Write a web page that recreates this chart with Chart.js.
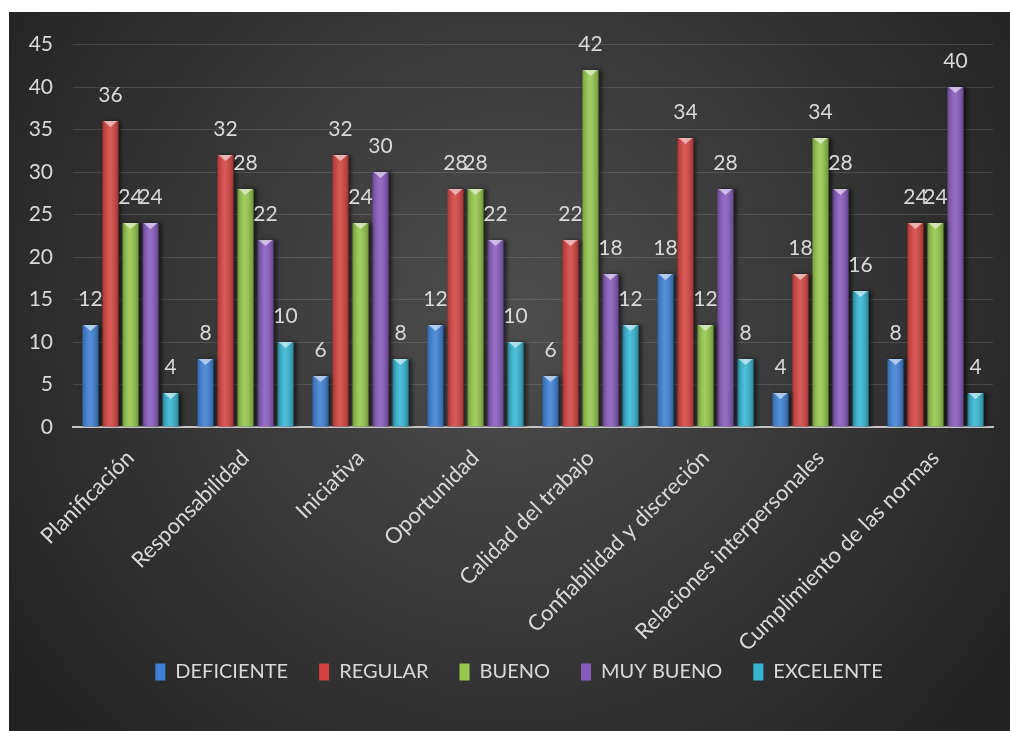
<!DOCTYPE html>
<html>
<head>
<meta charset="utf-8">
<script src="https://cdn.jsdelivr.net/npm/chart.js@4.4.1/dist/chart.umd.min.js"></script>
<style>
  body { margin: 0; background: #ffffff; }
  #wrap { position: absolute; left: 9px; top: 12px; width: 1001px; height: 719px; }
</style>
</head>
<body>
<div id="wrap"><canvas id="chart" width="1001" height="719"></canvas></div>
<script>
// categorias evaluadas
var categorias = ['Planificación', 'Responsabilidad', 'Iniciativa', 'Oportunidad',
  'Calidad del trabajo', 'Confiabilidad y discreción', 'Relaciones interpersonales',
  'Cumplimiento de las normas'];

var deficiente = [12, 8, 6, 12, 6, 18, 4, 8];
var regular    = [36, 32, 32, 28, 22, 34, 18, 24];
var bueno      = [24, 28, 24, 28, 42, 12, 34, 24];
var muyBueno   = [24, 22, 30, 22, 18, 28, 28, 40];
var excelente  = [4, 10, 8, 10, 12, 8, 16, 4];

var yTicks = [0, 5, 10, 15, 20, 25, 30, 35, 40, 45];

var FONT = 'Lato, "Open Sans", sans-serif';
var TXT = '#d9d9d9';

// fondo oscuro con degradado radial
var fondo = {
  id: 'fondo',
  beforeDraw: function (chart) {
    var ctx = chart.ctx, w = chart.width, h = chart.height;
    var g = ctx.createRadialGradient(w * 0.5, h * 0.42, 0, w * 0.5, h * 0.42, w * 0.62);
    g.addColorStop(0, '#4e4e4e');
    g.addColorStop(1, '#222222');
    ctx.save();
    ctx.fillStyle = g;
    ctx.fillRect(0, 0, w, h);
    ctx.restore();
  }
};

// las etiquetas giradas bajan por debajo de la caja del eje, no recortarlas
// y correr un poco la leyenda a la derecha
var ajustes = {
  id: 'ajustes',
  afterLayout: function (chart) {
    chart.scales.x.bottom = chart.height;
    chart.legend.left += 36;
  }
};

// sombra de las barras
var sombra = {
  id: 'sombra',
  beforeDatasetDraw: function (chart) {
    var ctx = chart.ctx;
    ctx.save();
    ctx.shadowColor = 'rgba(0,0,0,0.55)';
    ctx.shadowBlur = 4;
    ctx.shadowOffsetX = 3;
    ctx.shadowOffsetY = 0;
  },
  afterDatasetDraw: function (chart) {
    chart.ctx.restore();
  }
};

// brillo, punta clara y etiquetas de valor
var relieve = {
  id: 'relieve',
  afterDatasetsDraw: function (chart) {
    var ctx = chart.ctx;
    ctx.save();
    chart.data.datasets.forEach(function (ds, i) {
      var meta = chart.getDatasetMeta(i);
      meta.data.forEach(function (bar, j) {
        var p = bar.getProps(['x', 'y', 'base', 'width'], true);
        var l = p.x - p.width / 2, r = p.x + p.width / 2;
        var g = ctx.createLinearGradient(l, 0, r, 0);
        g.addColorStop(0, 'rgba(0,0,0,0.2)');
        g.addColorStop(0.45, 'rgba(255,255,255,0.12)');
        g.addColorStop(1, 'rgba(0,0,0,0.26)');
        ctx.fillStyle = g;
        ctx.fillRect(l, p.y, p.width, p.base - p.y);
        // punta
        ctx.beginPath();
        ctx.moveTo(l + 1, p.y);
        ctx.lineTo(r - 1, p.y);
        ctx.lineTo(p.x, p.y + 6);
        ctx.closePath();
        ctx.fillStyle = 'rgba(255,255,255,0.55)';
        ctx.fill();
        // valor
        ctx.fillStyle = TXT;
        ctx.font = '21px ' + FONT;
        ctx.textAlign = 'center';
        ctx.textBaseline = 'bottom';
        ctx.fillText(ds.data[j], p.x, p.y - 15);
      });
    });
    ctx.restore();
  }
};

function serie(nombre, datos, color) {
  return { label: nombre, data: datos, backgroundColor: color, borderWidth: 0,
    categoryPercentage: 0.87, barPercentage: 0.8 };
}

new Chart(document.getElementById('chart'), {
  type: 'bar',
  data: {
    labels: categorias,
    datasets: [
      serie('DEFICIENTE', deficiente, '#3c7fd4'),
      serie('REGULAR', regular, '#d4423f'),
      serie('BUENO', bueno, '#95c84a'),
      serie('MUY BUENO', muyBueno, '#865abd'),
      serie('EXCELENTE', excelente, '#34b6d3')
    ]
  },
  options: {
    responsive: false,
    animation: false,
    layout: { padding: { top: 28, right: 17, bottom: 39, left: 0 } },
    plugins: {
      tooltip: { enabled: false },
      legend: {
        position: 'bottom',
        labels: {
          color: TXT,
          font: { family: FONT, size: 20 },
          boxWidth: 10,
          boxHeight: 17,
          padding: 31
        }
      }
    },
    scales: {
      x: {
        grid: { display: false, drawTicks: false },
        border: { display: true, color: '#c4c4c4', width: 2 },
        ticks: {
          color: TXT,
          font: { family: FONT, size: 22 },
          minRotation: 45,
          maxRotation: 45,
          padding: 18
        },
        afterFit: function (s) { s.height = 204; }
      },
      y: {
        min: 0,
        max: 45,
        afterBuildTicks: function (s) {
          s.ticks = yTicks.map(function (v) { return { value: v }; });
        },
        grid: {
          color: function (c) { return c.tick && c.tick.value === 0 ? 'rgba(0,0,0,0)' : 'rgba(255,255,255,0.12)'; },
          drawTicks: false
        },
        border: { display: false },
        ticks: {
          color: TXT,
          font: { family: FONT, size: 21 },
          padding: 20
        },
        afterFit: function (s) { s.width = 64; }
      }
    }
  },
  plugins: [fondo, ajustes, sombra, relieve]
});
</script>
</body>
</html>
